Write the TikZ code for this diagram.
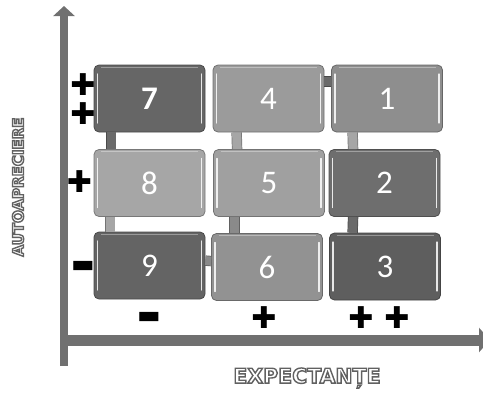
\documentclass[tikz,border=0pt]{standalone}
\usepackage{fontspec}
\setmainfont{Carlito}
\newfontfamily\symfont{DejaVu Sans}
\newfontfamily\lblfont{DejaVu Sans}
\usetikzlibrary{arrows.meta,calc}
\definecolor{axgray}{HTML}{707070}
\definecolor{c7}{HTML}{666666}
\definecolor{c4}{HTML}{9B9B9B}
\definecolor{c1}{HTML}{8E8E8E}
\definecolor{c8}{HTML}{A6A6A6}
\definecolor{c5}{HTML}{A0A0A0}
\definecolor{c2}{HTML}{6E6E6E}
\definecolor{c9}{HTML}{646464}
\definecolor{c6}{HTML}{929292}
\definecolor{c3}{HTML}{5E5E5E}
\definecolor{kdark}{HTML}{6A6A6A}
\definecolor{kmid}{HTML}{8A8A8A}
\definecolor{klight}{HTML}{A6A6A6}
\newcommand{\outl}[1]{{\color{white}\special{pdf:literal direct 0.38 G 1.4 w 2 Tr}#1\special{pdf:literal direct 0 Tr}}}
\begin{document}
\begin{tikzpicture}[x=1pt,y=-1pt,
  cell/.style={draw=#1!72!black, fill=#1, rounded corners=5pt, line width=0.8pt,
    text=white, font=\fontsize{33}{33}\selectfont, inner sep=0pt,
    minimum width=111pt, minimum height=67pt,
    path picture={
      \draw[white, opacity=0.85, line width=1.1pt, line cap=round]
        ($(path picture bounding box.north west)+(3.5,9)$) -- ($(path picture bounding box.south west)+(3.5,-9)$)
        ($(path picture bounding box.north east)+(-3.5,9)$) -- ($(path picture bounding box.south east)+(-3.5,-9)$);
      \draw[white, opacity=0.35, line width=0.8pt]
        ($(path picture bounding box.north west)+(7,2)$) -- ($(path picture bounding box.north east)+(-7,2)$);
    }},
  conn/.style={draw=#1!70!black, double=#1, double distance=9pt, line width=0.7pt},
  axisline/.style={draw=axgray, line width=#1},
  sign/.style={font=\symfont\bfseries\fontsize{30}{30}\selectfont, inner sep=0pt, text=black},
  minus/.style={font=\symfont\bfseries\fontsize{25}{25}\selectfont, inner sep=0pt, text=black},
  lbl/.style={inner sep=0pt, font=\lblfont\bfseries\fontsize{#1}{#1}\selectfont}
]
\useasboundingbox (0,0) rectangle (483,392);
% axes
\coordinate (yb) at (64,366);
\coordinate (yt) at (64,6);
\coordinate (xa) at (60,340);
\coordinate (xb) at (490,340);
\draw[axisline=8pt, -{Triangle[width=21pt,length=10pt]}] (yb) -- (yt);
\draw[axisline=11pt, -{Triangle[width=24pt,length=11pt]}] (xa) -- (xb);
% cells
\node[cell=c7] (n7) at (149.5,98.5) {\textbf{7}};
\node[cell=c4] (n4) at (268.5,98.5) {4};
\node[cell=c1] (n1) at (387,98.5) {1};
\node[cell=c8] (n8) at (149.5,183) {8};
\node[cell=c5] (n5) at (269,183) {5};
\node[cell=c2] (n2) at (384.5,183) {2};
\node[cell=c9] (n9) at (149.5,265.5) {9};
\node[cell=c6] (n6) at (267,267) {6};
\node[cell=c3] (n3) at (385,266.5) {3};
% connectors
\draw[conn=kdark] ($(n7.south west)+(17.5,0)$) -- ($(n8.north west)+(17.5,0)$);
\draw[conn=klight] ($(n8.south west)+(16.5,0)$) -- ($(n9.north west)+(16.5,0)$);
\draw[conn=klight] ($(n4.south west)+(24,0)$) -- ($(n5.north west)+(24,0)$);
\draw[conn=kmid] ($(n5.south west)+(21.5,0)$) -- ($(n6.north west)+(23.5,0)$);
\draw[conn=klight] ($(n1.south west)+(21.5,0)$) -- ($(n2.north west)+(24.5,0)$);
\draw[conn=kdark] ($(n2.south west)+(24.5,0)$) -- ($(n3.north west)+(23.5,0)$);
\draw[conn=kdark] ($(n4.north east)+(0,17)$) -- ($(n1.north west)+(0,17)$);
\draw[conn=kmid] ($(n9.north east)+(0,29)$) -- ($(n6.north west)+(0,28)$);
% signs
\node[sign] (s1) at (83,85) {✚};
\node[sign] (s2) at (83,114) {✚};
\node[sign] (s3) at (79.5,182) {✚};
\node[minus] (s4) at (83,267) {▬};
\node[minus] (s5) at (149,318) {▬};
\node[sign] (s6) at (264,318) {✚};
\node[sign] (s7) at (361,318) {✚};
\node[sign] (s8) at (397,318) {✚};
% axis labels
\node[lbl=15, rotate=90] (ly) at (18,187) {\outl{AUTOAPRECIERE}};
\node[lbl=20.5] (lx) at (307,378) {\outl{EXPECTANȚE}};
\end{tikzpicture}
\end{document}
